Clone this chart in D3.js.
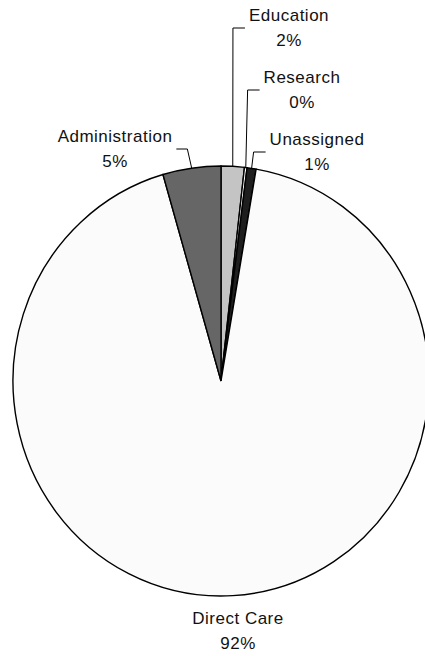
<!DOCTYPE html>
<html>
<head>
<meta charset="utf-8">
<script src="https://cdn.jsdelivr.net/npm/d3@7"></script>
<style>
  html, body { margin: 0; padding: 0; background: #ffffff; }
  svg { display: block; }
  text { font-family: "Liberation Sans", Arial, sans-serif; font-size: 17px; fill: #111; letter-spacing: 0.5px; }
</style>
</head>
<body>
<svg id="chart" width="425" height="656"></svg>
<script>
// ---- data ----
const categories = ["Education", "Research", "Unassigned", "Direct Care", "Administration"];
const values     = [1.8, 0.2, 0.7, 92.8, 4.5];
const percentLabels = ["2%", "0%", "1%", "92%", "5%"];
const colors     = ["#c4c4c4", "#ffffff", "#1e1e1e", "#fbfbfb", "#666666"];

// ---- layout ----
const W = 425, H = 656;
const cx = 221, cy = 381, rx = 208, ry = 215;
// label placement: text center x, first baseline y, side of leader ("left" => leader on left of text, "right" => on right, null => none)
const labelLayout = {
  "Education":      { x: 289, y: 21,  side: "left" },
  "Research":       { x: 302, y: 83,  side: "left" },
  "Unassigned":     { x: 317, y: 145, side: "left" },
  "Direct Care":    { x: 238, y: 624, side: null },
  "Administration": { x: 115, y: 142, side: "right" }
};

const data = categories.map((c, i) => ({ name: c, value: values[i], pct: percentLabels[i], color: colors[i] }));

const svg = d3.select("#chart");

const pie = d3.pie().value(d => d.value).sort(null).startAngle(0).endAngle(2 * Math.PI);
const arcs = pie(data);
const arc = d3.arc().innerRadius(0).outerRadius(rx);

const g = svg.append("g").attr("transform", `translate(${cx},${cy}) scale(1,${ry / rx})`);
g.selectAll("path.slice")
  .data(arcs)
  .enter().append("path")
  .attr("class", "slice")
  .attr("d", arc)
  .attr("fill", d => d.data.color)
  .attr("stroke", "#000")
  .attr("stroke-width", 1.4)
  .attr("stroke-linejoin", "miter")
  .attr("vector-effect", "non-scaling-stroke");

// labels
const lineGap = 25;
arcs.forEach(a => {
  const L = labelLayout[a.data.name];
  const t1 = svg.append("text").attr("x", L.x).attr("y", L.y).attr("text-anchor", "middle").text(a.data.name);
  svg.append("text").attr("x", L.x).attr("y", L.y + lineGap).attr("text-anchor", "middle").text(a.data.pct);
  if (!L.side) return;
  const w = t1.node().getComputedTextLength();
  const mid = (a.startAngle + a.endAngle) / 2;
  const sx = cx + rx * Math.sin(mid), sy = cy - ry * Math.cos(mid);
  const ey = L.y + 7;
  let endX, elbowX;
  if (L.side === "left") {
    endX = L.x - w / 2 - 4;
    elbowX = endX - 12;
  } else {
    endX = L.x + w / 2 + 4;
    elbowX = endX + 11;
  }
  svg.append("path")
    .attr("d", d3.line()([[sx, sy], [elbowX, ey], [endX, ey]]))
    .attr("fill", "none")
    .attr("stroke", "#000")
    .attr("stroke-width", 1);
});
</script>
</body>
</html>
